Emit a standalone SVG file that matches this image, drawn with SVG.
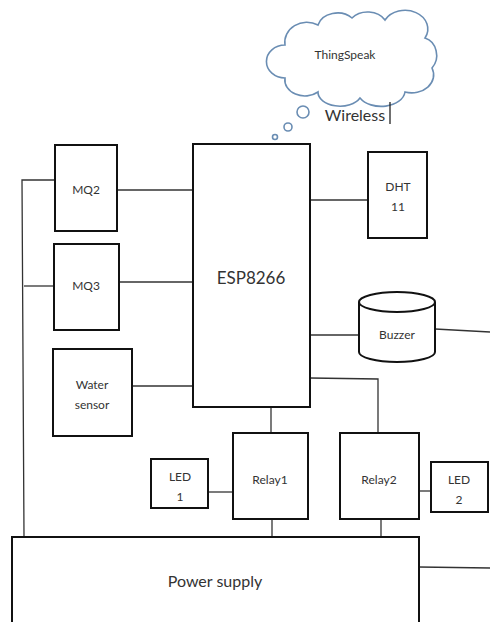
<svg xmlns="http://www.w3.org/2000/svg" width="490" height="622" viewBox="0 0 490 622">
<style>
.box{fill:#fff;stroke:#111;stroke-width:2}
.ln{fill:none;stroke:#333;stroke-width:1.3}
.t{font-family:Lato,"Open Sans",sans-serif;font-size:12px;fill:#333;text-anchor:middle}
.cl{fill:#fff;stroke:#6a8db3;stroke-width:1.6}
</style>
<rect width="490" height="622" fill="#fff"/>
<g id="connectors">
<polyline class="ln" points="55,180 22,180 24,537"/>
<line class="ln" x1="24" y1="286" x2="54" y2="286"/>
<line class="ln" x1="117" y1="190" x2="193" y2="190"/>
<line class="ln" x1="119" y1="282" x2="193" y2="282"/>
<line class="ln" x1="132" y1="386" x2="193" y2="386"/>
<line class="ln" x1="310" y1="200" x2="368" y2="200"/>
<line class="ln" x1="310" y1="335" x2="359" y2="335"/>
<line class="ln" x1="435" y1="329" x2="490" y2="332"/>
<polyline class="ln" points="310,378 378,379 378,433"/>
<line class="ln" x1="271" y1="408" x2="271" y2="433"/>
<line class="ln" x1="208" y1="492" x2="233" y2="492"/>
<line class="ln" x1="419" y1="491" x2="431" y2="491"/>
<line class="ln" x1="272" y1="519" x2="272" y2="537"/>
<line class="ln" x1="381" y1="519" x2="381" y2="537"/>
<line class="ln" x1="419" y1="567" x2="490" y2="568"/>
</g>
<g id="cloud">
<path class="cl" d="M285,45 A22,20 0 0 1 318,25 A20,16 0 0 1 352,18 A20,16 0 0 1 385,20 A22,18 0 0 1 425,38 A16,18 0 0 1 432,68 A22,18 0 0 1 405,92 A24,16 0 0 1 360,98 A22,14 0 0 1 318,92 A20,16 0 0 1 285,78 A18,16 0 0 1 285,45 Z"/>
<circle class="cl" cx="303" cy="112" r="6"/>
<circle class="cl" cx="288" cy="127" r="4"/>
<circle class="cl" cx="275" cy="137" r="2.5"/>
<text class="t" x="345" y="59" font-size="13">ThingSpeak</text>
</g>
<g id="wireless">
<text class="t" x="355" y="121" style="font-size:16px">Wireless</text>
<line x1="390" y1="102" x2="390" y2="124" stroke="#222" stroke-width="1.3"/>
</g>
<g id="mq2"><rect class="box" x="55" y="145" width="62" height="86"/><text class="t" x="86" y="194">MQ2</text></g>
<g id="mq3"><rect class="box" x="54" y="244" width="65" height="86"/><text class="t" x="86" y="290">MQ3</text></g>
<g id="water"><rect class="box" x="53" y="349" width="79" height="87"/><text class="t" x="92" y="389">Water</text><text class="t" x="92" y="409">sensor</text></g>
<g id="esp"><rect class="box" x="193" y="144" width="117" height="263"/><text class="t" x="251" y="284" style="font-size:17px">ESP8266</text></g>
<g id="dht"><rect class="box" x="368" y="152" width="59" height="86"/><text class="t" x="398" y="191">DHT</text><text class="t" x="398" y="211">11</text></g>
<g id="buzzer">
<path class="box" d="M359,302 L359,352 A38,10 0 0 0 435,352 L435,302"/>
<ellipse class="box" cx="397" cy="302" rx="38" ry="10"/>
<text class="t" x="397" y="339">Buzzer</text>
</g>
<g id="relay1"><rect class="box" x="233" y="433" width="75" height="86"/><text class="t" x="270" y="484">Relay1</text></g>
<g id="relay2"><rect class="box" x="340" y="433" width="79" height="86"/><text class="t" x="379" y="484">Relay2</text></g>
<g id="led1"><rect class="box" x="151" y="459" width="57" height="49"/><text class="t" x="180" y="481">LED</text><text class="t" x="180" y="501">1</text></g>
<g id="led2"><rect class="box" x="431" y="462" width="57" height="50"/><text class="t" x="459" y="484">LED</text><text class="t" x="459" y="504">2</text></g>
<g id="power"><rect class="box" x="12" y="537" width="407" height="100"/><text class="t" x="215" y="587" style="font-size:16px">Power supply</text></g>
</svg>
